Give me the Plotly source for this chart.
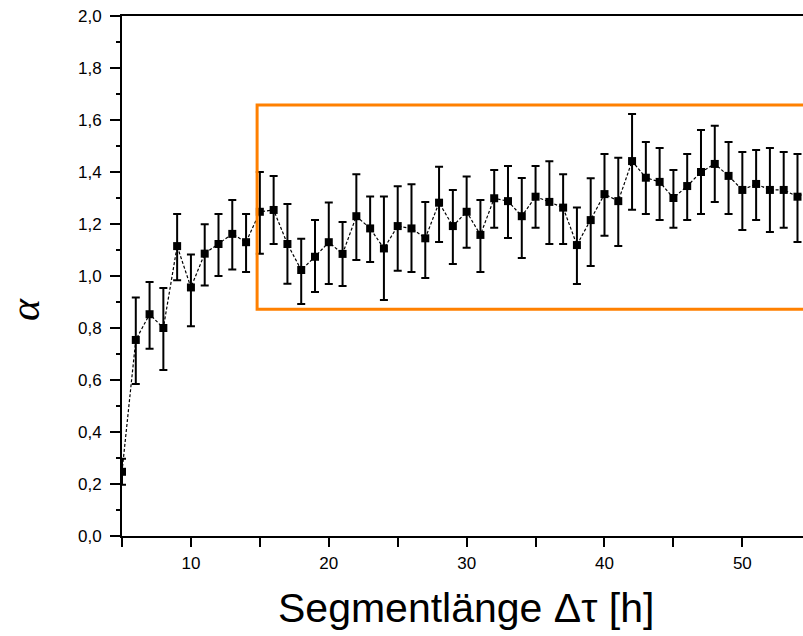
import plotly.graph_objects as go

seg_len = list(range(5, 56))
alpha = [0.247, 0.754, 0.853, 0.800, 1.115, 0.956, 1.086, 1.123, 1.162, 1.130,
         1.247, 1.254, 1.123, 1.023, 1.074, 1.130, 1.085, 1.230, 1.183, 1.106,
         1.192, 1.183, 1.145, 1.282, 1.192, 1.247, 1.158, 1.299, 1.288, 1.230,
         1.305, 1.285, 1.263, 1.119, 1.215, 1.315, 1.288, 1.442, 1.378, 1.362,
         1.300, 1.346, 1.400, 1.431, 1.385, 1.331, 1.354, 1.331, 1.331, 1.305,
         1.330]
err_plus = [0.050, 0.163, 0.124, 0.154, 0.123, 0.127, 0.113, 0.115, 0.130, 0.108,
            0.153, 0.131, 0.154, 0.120, 0.141, 0.153, 0.123, 0.161, 0.123, 0.200,
            0.153, 0.170, 0.140, 0.138, 0.139, 0.136, 0.134, 0.109, 0.135, 0.147,
            0.118, 0.156, 0.128, 0.144, 0.161, 0.154, 0.167, 0.181, 0.137, 0.130,
            0.108, 0.123, 0.162, 0.147, 0.130, 0.146, 0.131, 0.161, 0.146, 0.164,
            0.150]
err_minus = [0.050, 0.169, 0.133, 0.162, 0.131, 0.149, 0.123, 0.123, 0.137, 0.115,
             0.161, 0.131, 0.153, 0.131, 0.136, 0.161, 0.123, 0.168, 0.129, 0.198,
             0.172, 0.168, 0.153, 0.151, 0.146, 0.138, 0.143, 0.113, 0.142, 0.161,
             0.119, 0.162, 0.140, 0.150, 0.177, 0.160, 0.173, 0.187, 0.140, 0.147,
             0.114, 0.131, 0.162, 0.146, 0.147, 0.154, 0.139, 0.162, 0.145, 0.174,
             0.150]

x_range = [5, 54.4]
y_range = [0, 2.0]
x_tickvals = [10, 20, 30, 40, 50]
y_tickvals = [0.0, 0.2, 0.4, 0.6, 0.8, 1.0, 1.2, 1.4, 1.6, 1.8, 2.0]
y_ticktext = ["0,0", "0,2", "0,4", "0,6", "0,8", "1,0", "1,2", "1,4", "1,6", "1,8", "2,0"]

# highlight box (data units)
box_x0, box_x1 = 14.8, 60
box_y0, box_y1 = 0.872, 1.658

fig = go.Figure()
fig.add_trace(go.Scatter(
    x=seg_len, y=alpha, mode="lines+markers",
    line=dict(color="black", width=1.2, dash="3px,2px"),
    marker=dict(symbol="square", size=8, color="black"),
    error_y=dict(type="data", symmetric=False, array=err_plus, arrayminus=err_minus,
                 color="black", thickness=2, width=4),
    showlegend=False,
))

fig.add_shape(type="rect", xref="x", yref="y",
              x0=box_x0, x1=box_x1, y0=box_y0, y1=box_y1,
              line=dict(color="#FF8000", width=3), fillcolor="rgba(0,0,0,0)")

tickfont = dict(family="Liberation Sans, Arial, sans-serif", size=17, color="black")

fig.update_layout(
    width=803, height=636,
    margin=dict(l=122, r=0, t=16, b=100),
    paper_bgcolor="white", plot_bgcolor="white",
    xaxis=dict(range=x_range, tickvals=x_tickvals, ticks="outside", ticklen=9,
               tickwidth=2, tickcolor="black", showline=True, linewidth=2,
               linecolor="black", mirror=True, showgrid=False, zeroline=False,
               tickfont=tickfont, ticklabelstandoff=2,
               minor=dict(dtick=5, tick0=5, ticks="outside", ticklen=9,
                          tickwidth=2, tickcolor="black")),
    yaxis=dict(range=y_range, tickvals=y_tickvals, ticktext=y_ticktext,
               ticks="outside", ticklen=10, tickwidth=2, tickcolor="black",
               showline=True, linewidth=2, linecolor="black", showgrid=False,
               zeroline=False, tickfont=tickfont, ticklabelstandoff=5,
               minor=dict(dtick=0.1, tick0=0, ticks="outside", ticklen=4,
                          tickwidth=2, tickcolor="black")),
    annotations=[
        dict(text="Segmentlänge Δτ [h]", xref="paper", yref="paper",
             x=0.505, y=-0.138, xanchor="center", yanchor="middle",
             showarrow=False,
             font=dict(family="Liberation Sans, Arial, sans-serif", size=41, color="black")),
        dict(text="<i>α</i>", xref="paper", yref="paper",
             x=-0.1424, y=0.4346, xanchor="center", yanchor="middle",
             showarrow=False, textangle=-90,
             font=dict(family="Liberation Serif, Times New Roman, serif", size=42, color="black")),
    ],
)

fig.write_html("out.html", config={"displayModeBar": False},
               post_script="document.body.style.margin='0px';document.body.style.overflow='hidden';")
